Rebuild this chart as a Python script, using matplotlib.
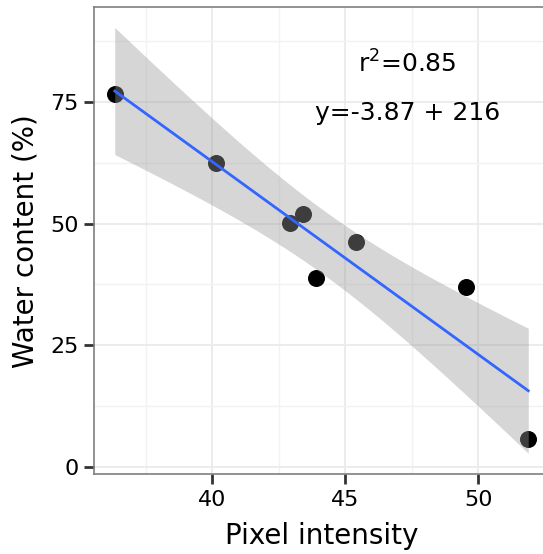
import matplotlib
matplotlib.use("Agg")
import matplotlib.pyplot as plt
import numpy as np

# pixel intensity vs water content
pixel_intensity = np.array([36.33, 40.15, 42.91, 43.41, 43.90, 45.41, 49.55, 51.88])
water_content = np.array([76.7, 62.5, 50.1, 51.9, 38.8, 46.2, 37.0, 5.7])
r2_label = r"r$^2$=0.85"
eq_label = "y=-3.87 + 216"

# linear fit + 95% confidence band (like geom_smooth(method='lm'))
n = len(pixel_intensity)
slope, intercept = np.polyfit(pixel_intensity, water_content, 1)
xs = np.linspace(pixel_intensity.min(), pixel_intensity.max(), 80)
fit = intercept + slope * xs
resid = water_content - (intercept + slope * pixel_intensity)
s = np.sqrt(np.sum(resid ** 2) / (n - 2))
xm = pixel_intensity.mean()
sxx = np.sum((pixel_intensity - xm) ** 2)
t_crit = 2.447  # t(0.975, df=6)
half = t_crit * s * np.sqrt(1 / n + (xs - xm) ** 2 / sxx)

W, H = 543, 554
fig = plt.figure(figsize=(W / 100, H / 100), dpi=100)
fig.patch.set_facecolor("white")
# panel runs past the right edge of the image, as in the original
ax = fig.add_axes([94 / W, (H - 474.3) / H, (549 - 94) / W, (474.3 - 7) / H])

ax.set_xticks([37.5, 42.5, 47.5, 52.5], minor=True)
ax.set_yticks([12.5, 37.5, 62.5, 87.5], minor=True)
ax.set_xticks([40, 45, 50])
ax.set_yticks([0, 25, 50, 75])
ax.grid(which="major", color="#ebebeb", lw=1.3)
ax.grid(which="minor", color="#f2f2f2", lw=1.0)
ax.set_axisbelow(True)

ax.scatter(pixel_intensity, water_content, s=150, color="black", zorder=2, linewidths=0)
ax.fill_between(xs, fit - half, fit + half, color="#999999", alpha=0.4, lw=0, zorder=3)
ax.plot(xs, fit, color="#3366FF", lw=2, zorder=4)

ax.text(47.33, 82.9, r2_label, ha="center", va="center", fontsize=18)
ax.text(47.33, 72.8, eq_label, ha="center", va="center", fontsize=18)

ax.set_xlim(35.55, 52.66)
ax.set_ylim(-1.59, 94.6)

for sp in ax.spines.values():
    sp.set_color("#7f7f7f")
    sp.set_linewidth(1.2)

ax.tick_params(which="major", length=7, width=2, color="#333333", labelsize=16,
               labelcolor="black", pad=4)
ax.tick_params(which="minor", length=0)

ax.set_xlabel("Pixel intensity", fontsize=20, labelpad=9)
ax.set_ylabel("Water content (%)", fontsize=20, labelpad=8)

fig.savefig("out.png", dpi=100)
